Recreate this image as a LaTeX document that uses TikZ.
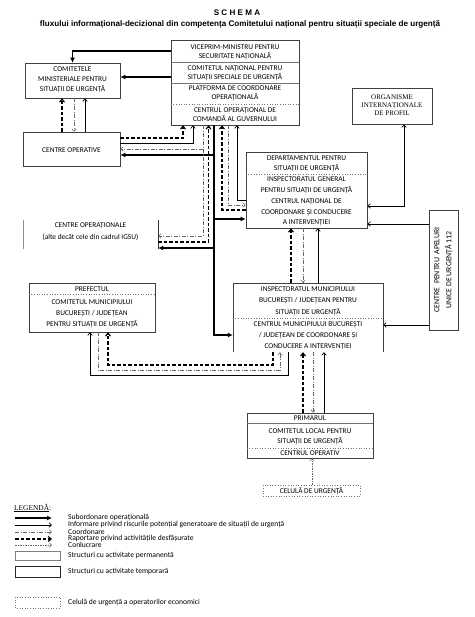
\documentclass[tikz,border=0pt]{standalone}
\usepackage{fontspec}
\setmainfont{Carlito}
\newfontfamily\titlefont{Liberation Sans}
\newfontfamily\seriffont{Liberation Serif}
\usetikzlibrary{arrows.meta}

\begin{document}
\begin{tikzpicture}[x=1pt,y=-1pt,
        box/.style={draw=black!75,line width=.6pt,inner sep=0pt},
        txt/.style={align=center,inner sep=0pt,font=\fontsize{7.4}{10}\selectfont},
        legtxt/.style={anchor=west,inner sep=0pt,font=\fontsize{7.6}{8}\selectfont},
        sepl/.style={draw=black!55,line width=.5pt},
        sepd/.style={draw=black!55,line width=.6pt,dotted},
        subord/.style={line width=1.5pt,-{Latex[length=5pt,width=5pt]}},
        inform/.style={line width=.7pt,-{Straight Barb[length=2.5pt,width=4.5pt]}},
        coord/.style={black!60,line width=.55pt,dash pattern=on 4pt off 1.5pt on 1pt off 1.5pt,-{Straight Barb[length=2.5pt,width=4.5pt]}},
        raport/.style={line width=1.1pt,dash pattern=on 3.5pt off 2pt,-{Straight Barb[length=3pt,width=5pt]}},
        conlucr/.style={black!60,line width=.5pt,dash pattern=on 1.5pt off 1pt,-{Straight Barb[length=2.5pt,width=4.5pt]}}]
            \useasboundingbox (0,0) rectangle (474,617);

            \node[font=\titlefont\bfseries\fontsize{8.1}{9}\selectfont] (ttl1) at (237,13) {S C H E M A};
            \node[font=\titlefont\bfseries\fontsize{8.1}{9}\selectfont] (ttl2) at (240,24) {fluxului informațional-decizional din competența Comitetului național pentru situații speciale de urgență};

            % Y % 40   62   83   104   125
            \node[box,minimum width=128,minimum height=85] (vice) at (235,82.5) {};
            \draw[sepl] (vice.west |- 0,62) -- (vice.east |- 0,62);
            \draw[sepl] (vice.west |- 0,83) -- (vice.east |- 0,83);
            \draw[sepd] (vice.west |- 0,104) -- (vice.east |- 0,104);
            \node[txt,font=\fontsize{7.4}{9}\selectfont] (vice1) at (235,52.5) {VICEPRIM-MINISTRU PENTRU\\SECURITATE NAȚIONALĂ};
            \node[txt,font=\fontsize{7.4}{9}\selectfont] (vice2) at (235,73) {COMITETUL NAȚIONAL PENTRU\\SITUAȚII SPECIALE DE URGENȚĂ};
            \node[txt,font=\fontsize{7.4}{9}\selectfont] (vice3) at (235,93.5) {PLATFORMA DE COORDONARE\\OPERAȚIONALĂ};
            \node[txt,font=\fontsize{7.4}{9}\selectfont] (vice4) at (235,115) {CENTRUL OPERAȚIONAL DE\\COMANDĂ AL GUVERNULUI};

            \node[box,minimum width=95,minimum height=35] (comm) at (72.5,80.5) {};
            \node[txt] (commt) at (72.5,79.5) {COMITETELE\\MINISTERIALE PENTRU\\SITUAȚII DE URGENȚĂ};

            \node[box,minimum width=97,minimum height=34] (cop) at (71.5,149) {};
            \node[txt] (copt) at (71.5,150) {CENTRE OPERATIVE};

            \node[inner sep=0pt,minimum width=135,minimum height=29] (copn) at (90.5,234.5) {};
            \draw[black!45,line width=.6pt] (copn.north west) -- (copn.south west);
            \draw[black!80,line width=.6pt] (copn.north east) -- (copn.south east);
            \node[txt,font=\fontsize{7.4}{12}\selectfont] (copnt) at (90.5,232) {CENTRE OPERAȚIONALE\\(alte decât cele din cadrul IGSU)};

            \node[box,line width=.8pt,minimum width=80,minimum height=36] (org) at (392,106) {};
            \node[txt,font=\seriffont\fontsize{7}{8}\selectfont] (orgt) at (392,105) {ORGANISME\\INTERNAȚIONALE\\DE PROFIL};

            % Y % 152   174   228
            \node[box,minimum width=121,minimum height=76] (dep) at (306.5,190) {};
            \draw[sepd] (dep.west |- 0,174) -- (dep.east |- 0,174);
            \node[txt] (dep1) at (306.5,164) {DEPARTAMENTUL PENTRU\\SITUAȚII DE URGENȚĂ};
            \node[txt,font=\fontsize{7.4}{10.8}\selectfont] (dep2) at (306.5,201.5) {INSPECTORATUL GENERAL\\PENTRU SITUAȚII DE URGENȚĂ\\CENTRUL NAȚIONAL DE\\COORDONARE ȘI CONDUCERE\\A INTERVENȚIEI};

            \node[box,minimum width=29,minimum height=120] (c112) at (443.5,270) {};
            \node[txt,rotate=90,font=\fontsize{7.8}{12}\selectfont] (c112t) at (443.5,270) {CENTRE ~PENTRU ~APELURI\\UNICE DE URGENȚĂ 112};

            % Y % 283   318   352
            \node[inner sep=0pt,minimum width=150,minimum height=69] (insp) at (308,317.5) {};
            \draw[draw=black!75,line width=.6pt] (insp.south west) -- (insp.north west) -- (insp.north east) -- (insp.south east);
            \draw[sepd] (insp.west |- 0,318) -- (insp.east |- 0,318);
            \node[txt,font=\fontsize{7.4}{11.5}\selectfont] (insp1) at (308,301) {INSPECTORATUL MUNICIPIULUI\\BUCUREȘTI / JUDEȚEAN PENTRU\\SITUAȚII DE URGENȚĂ};
            \node[txt,font=\fontsize{7.4}{11}\selectfont] (insp2) at (308,336) {CENTRUL  MUNICIPIULUI BUCUREȘTI\\/ JUDEȚEAN DE COORDONARE ȘI\\CONDUCERE A INTERVENȚIEI};

            \node[box,minimum width=126,minimum height=49] (pref) at (92,307.5) {};
            \draw[sepd] (pref.west |- 0,294) -- (pref.east |- 0,294);
            \node[txt] (pref1) at (92,289) {PREFECTUL};
            \node[txt,font=\fontsize{7.4}{11}\selectfont] (pref2) at (92,314) {COMITETUL MUNICIPIULUI\\BUCUREȘTI / JUDEȚEAN\\PENTRU SITUAȚII DE URGENȚĂ};

            % Y % 413   423   448   458
            \node[box,minimum width=126,minimum height=45] (prim) at (310,435.5) {};
            \draw[sepl] (prim.west |- 0,423) -- (prim.east |- 0,423);
            \draw[sepd] (prim.west |- 0,448) -- (prim.east |- 0,448);
            \node[txt] (prim1) at (310,418.5) {PRIMARUL};
            \node[txt] (prim2) at (310,436.5) {COMITETUL LOCAL PENTRU\\SITUAȚII DE URGENȚĂ};
            \node[txt] (prim3) at (310,453.5) {CENTRUL OPERATIV};

            \node[box,sepd,minimum width=97,minimum height=11] (cel) at (311.5,490.5) {};
            \node[txt] (celt) at (311.5,491) {CELULĂ DE URGENȚĂ};

            % subordonare
            \draw[subord] (vice.west |- 0,51) -| (comm.north);
            \draw[subord] (vice.west |- 0,77) -- (comm.east |- 0,77);
            \draw[subord] (vice.south -| 214,0) |- (cop.east |- 0,155);
            \draw[subord] (vice.south -| 214,0) |- (dep.west |- 0,219);
            \draw[subord] (vice.south -| 214,0) |- (copn.east |- 0,248);
            \draw[subord] (vice.south -| 214,0) |- (insp.west |- 0,335);

            % raportare
            \draw[raport] (cop.north -| 62,0) -- (comm.south -| 62,0);
            \draw[raport] (cop.east |- 0,138) -| (vice.south -| 183,0);
            \draw[raport] (copn.east |- 0,242) -| (vice.south -| 208.5,0);
            \draw[raport] (dep.west |- 0,210) -| (vice.south -| 222,0);
            \draw[raport] (insp.north -| 291,0) -- (dep.south -| 291,0);
            \draw[raport] (insp.south -| 273,0) -- (273,365) -| (pref.south -| 108,0);
            \draw[raport] (prim.north -| 303,0) -- (insp.south -| 303,0);

            % coordonare
            \draw[coord] (comm.south -| 74,0) -- (cop.north -| 74,0);
            \draw[coord] (vice.south -| 203,0) |- (cop.east |- 0,149);
            \draw[coord] (vice.south -| 203,0) |- (copn.east |- 0,236);
            \draw[coord] (vice.south -| 228,0) |- (dep.west |- 0,205);
            \draw[coord] (dep.south -| 303,0) -- (insp.north -| 303,0);
            \draw[coord] (pref.south -| 98,0) -- (98,370) -| (insp.south -| 280,0);
            \draw[coord] (insp.south -| 313,0) -- (prim.north -| 313,0);

            % informare
            \draw[inform] (cop.north -| 85,0) -- (comm.south -| 85,0);
            \draw[inform] (cop.east |- 0,143) -| (vice.south -| 193,0);
            \draw[inform] (dep.west |- 0,200) -| (vice.south -| 237,0);
            \draw[inform,{Straight Barb[length=2.5pt,width=4.5pt]}-{Straight Barb[length=2.5pt,width=4.5pt]}] (dep.east |- 0,206) -| (org.south -| 404,0);
            \draw[inform] (c112.west |- 0,224) -- (dep.east |- 0,224);
            \draw[inform] (c112.west |- 0,325) -- (insp.east |- 0,325);
            \draw[inform] (insp.north -| 318,0) -- (dep.south -| 318,0);
            \draw[inform] (insp.south -| 288,0) -- (288,375) -| (pref.south -| 90,0);
            \draw[inform] (prim.north -| 324,0) -- (insp.south -| 324,0);

            % conlucrare
            \draw[conlucr] (cel.north -| 312,0) -- (prim.south -| 312,0);

            % legenda
            \node[anchor=west,inner sep=0pt,font=\seriffont\fontsize{7.4}{8}\selectfont] (leg) at (14,508) {\underline{LEGENDĂ}:};
            \foreach \y/\s/\t [count=\i] in {518/subord/Subordonare operațională,
                                               525/inform/Informare privind riscurile potențial generatoare de situații de urgență,
                                               532/coord/Coordonare,
                                               539/raport/Raportare privind activitățile desfășurate,
                                               545/conlucr/Conlucrare}
                {\draw[\s] (15,\y) -- (52,\y);
                 \node[legtxt] (lg\i) at (68,\y) {\t};}
            \draw[draw=black!50,line width=.5pt] (15,551) rectangle (60,560);
            \draw[draw=black!85,line width=.9pt] (15,566) rectangle (60,577);
            \draw[sepd] (15,597) rectangle (60,608);
            \node[legtxt] (lg6) at (68,555.5) {Structuri cu activitate permanentă};
            \node[legtxt] (lg7) at (68,571.5) {Structuri cu activitate temporară};
            \node[legtxt] (lg8) at (68,602.5) {Celulă de urgență a operatorilor economici};
        \end{tikzpicture}
\end{document}
